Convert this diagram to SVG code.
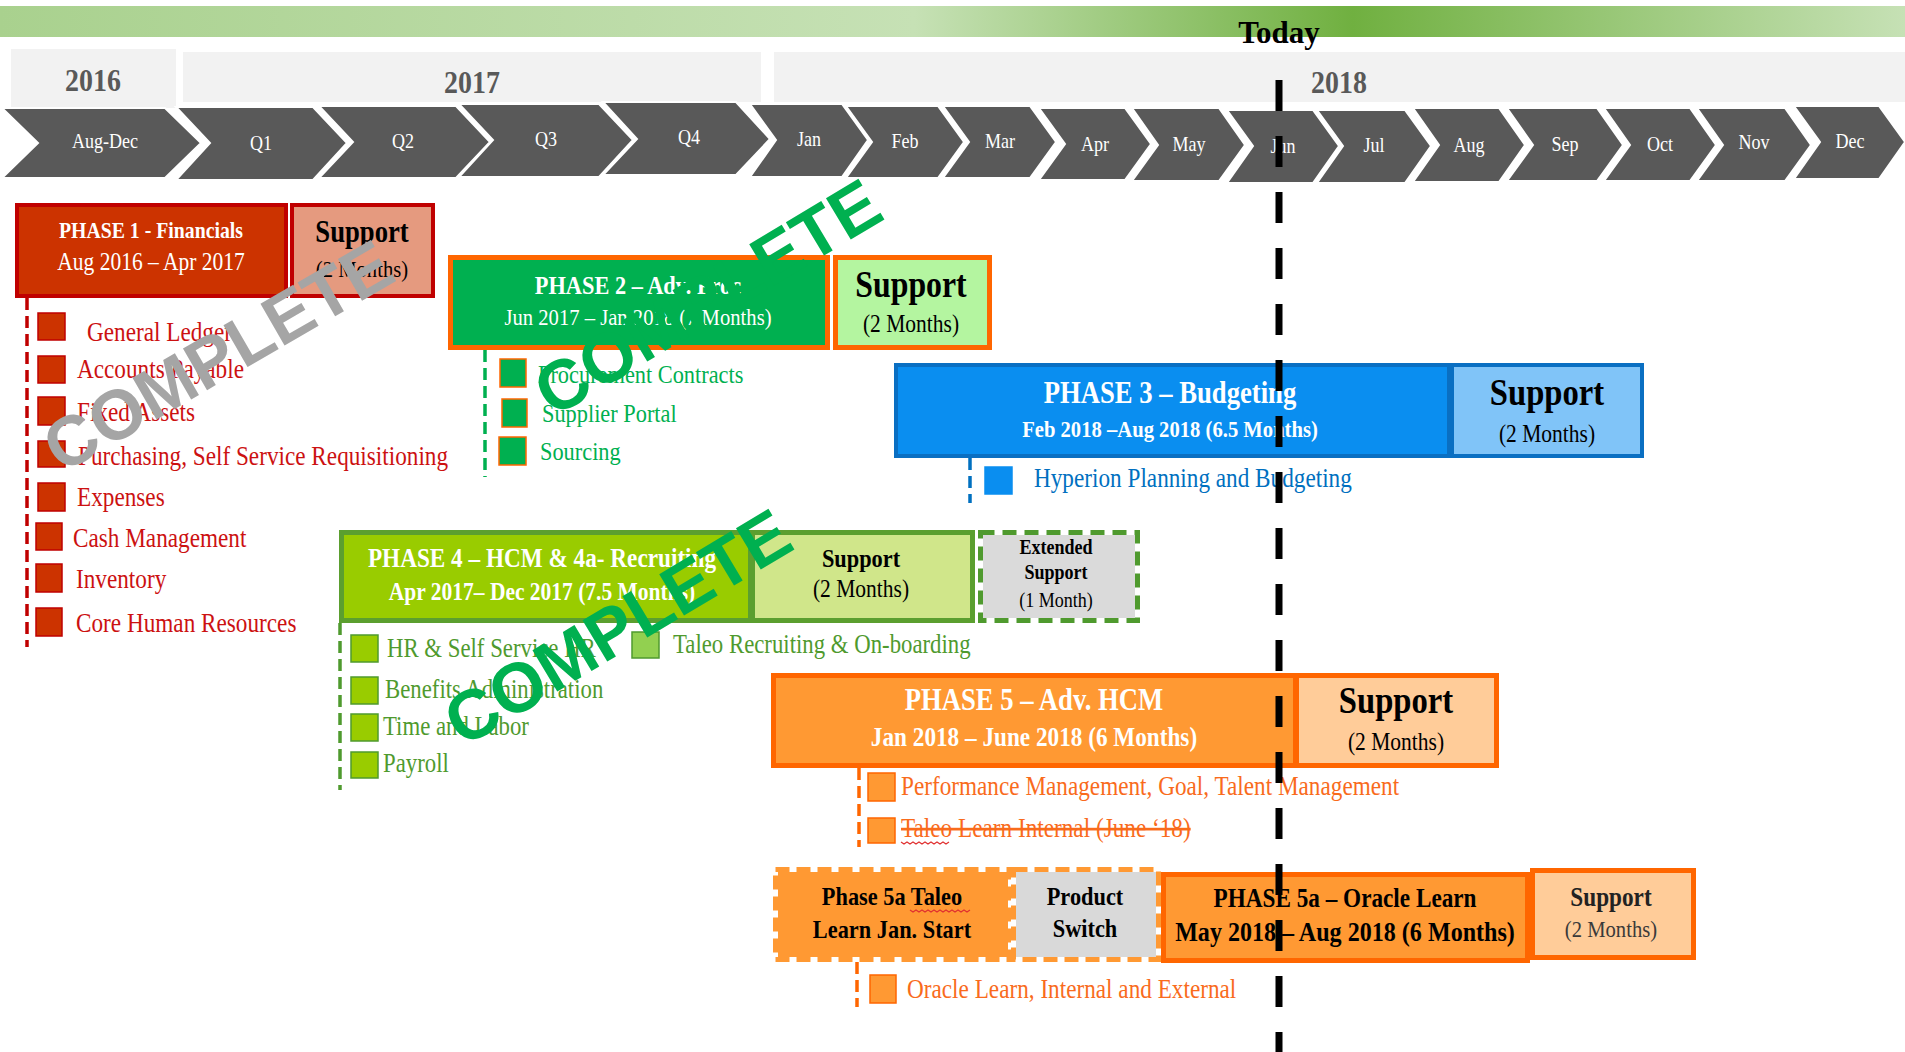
<svg xmlns="http://www.w3.org/2000/svg" width="1905" height="1052" viewBox="0 0 1905 1052">
<defs>
<linearGradient id="band" x1="0" y1="0" x2="1" y2="0">
<stop offset="0" stop-color="#a9d18e"/>
<stop offset="0.48" stop-color="#c6e1b5"/>
<stop offset="0.71" stop-color="#70b040"/>
<stop offset="1" stop-color="#c6e1b5"/>
</linearGradient>
<style>
text{font-family:"Liberation Serif","Times New Roman",serif}
.m{text-anchor:middle}
.b{font-weight:bold}
.chev{fill:#595959;stroke:#ffffff;stroke-width:2}
.cl{fill:#ffffff;font-size:21px;text-anchor:middle}
.yr{fill:#f2f2f2}
.yt{fill:#595959;font-size:31px;font-weight:bold;text-anchor:middle}
.w{fill:#ffffff}
.k{fill:#000000}
.conn{fill:none;stroke-width:3.5;stroke-dasharray:12 6}
.stamp{font-family:"Liberation Sans",Arial,sans-serif;font-weight:bold;font-size:70px;text-anchor:middle}
.sq1{fill:#cc3300;stroke:#c00000;stroke-width:1.5}
.sq2{fill:#00b050;stroke:#ff6600;stroke-width:1.5}
.sq3{fill:#0a8ef0;stroke:#0a8ef0;stroke-width:1.5}
.sq4{fill:#99cc00;stroke:#4f9a2e;stroke-width:1.5}
.sq4b{fill:#92d050;stroke:#4f9a2e;stroke-width:1.5}
.sq5{fill:#ff9933;stroke:#ff6600;stroke-width:1.5}
.t1{fill:#cc1111;font-size:27px}
.t2{fill:#00b050;font-size:26px}
.t3{fill:#0070c0;font-size:27px}
.t4{fill:#4f9a2e;font-size:26.5px}
.t5{fill:#f96b1c;font-size:27px}
.wave{fill:none;stroke:#e03030;stroke-width:1.2}
</style>
</defs>
<rect width="1905" height="1052" fill="#ffffff"/>

<g id="timeline">
<rect x="0" y="6" width="1905" height="31" fill="url(#band)"/>
<rect class="yr" x="11" y="49" width="165" height="59"/>
<rect class="yr" x="183" y="52" width="578" height="50"/>
<rect class="yr" x="774" y="52" width="1131" height="50"/>
<text class="yt" transform="translate(93 91) scale(.9 1)">2016</text>
<text class="yt" transform="translate(472 93) scale(.9 1)">2017</text>
<text class="yt" transform="translate(1339 93) scale(.9 1)">2018</text>
<polygon class="chev" points="2,108 165,108 201,143 165,178 2,178 38,143"/>
<polygon class="chev" points="176,107 313,107 347,143 313,180 176,180 210,143"/>
<polygon class="chev" points="319,106 456,106 490,142 456,178 319,178 353,142"/>
<polygon class="chev" points="459,104 599,104 633,140 599,177 459,177 493,140"/>
<polygon class="chev" points="603,102 736,102 770,139 736,175 603,175 637,139"/>
<polygon class="chev" points="750,104 842,104 868,140 842,177 750,177 776,140"/>
<polygon class="chev" points="846,106 938,106 964,142 938,178 846,178 872,142"/>
<polygon class="chev" points="943,106 1030,106 1056,142 1030,178 943,178 969,142"/>
<polygon class="chev" points="1039,108 1125,108 1151,144 1125,180 1039,180 1065,144"/>
<polygon class="chev" points="1132,108 1219,108 1245,145 1219,181 1132,181 1158,145"/>
<polygon class="chev" points="1227,110 1313,110 1339,146 1313,183 1227,183 1253,146"/>
<polygon class="chev" points="1317,110 1405,110 1431,146 1405,183 1317,183 1343,146"/>
<polygon class="chev" points="1413,108 1499,108 1525,145 1499,182 1413,182 1439,145"/>
<polygon class="chev" points="1507,108 1597,108 1623,145 1597,181 1507,181 1533,145"/>
<polygon class="chev" points="1604,108 1690,108 1716,145 1690,181 1604,181 1630,145"/>
<polygon class="chev" points="1697,108 1785,108 1811,145 1785,181 1697,181 1723,145"/>
<polygon class="chev" points="1794,106 1879,106 1905,142 1879,179 1794,179 1820,142"/>
<text class="cl" transform="translate(105 148) scale(.86 1)">Aug-Dec</text>
<text class="cl" transform="translate(261 150) scale(.86 1)">Q1</text>
<text class="cl" transform="translate(403 148) scale(.86 1)">Q2</text>
<text class="cl" transform="translate(546 146) scale(.86 1)">Q3</text>
<text class="cl" transform="translate(689 144) scale(.86 1)">Q4</text>
<text class="cl" transform="translate(809 146) scale(.86 1)">Jan</text>
<text class="cl" transform="translate(905 148) scale(.86 1)">Feb</text>
<text class="cl" transform="translate(1000 148) scale(.86 1)">Mar</text>
<text class="cl" transform="translate(1095 151) scale(.86 1)">Apr</text>
<text class="cl" transform="translate(1189 151) scale(.86 1)">May</text>
<text class="cl" transform="translate(1283 153) scale(.86 1)">Jun</text>
<text class="cl" transform="translate(1374 152) scale(.86 1)">Jul</text>
<text class="cl" transform="translate(1469 152) scale(.86 1)">Aug</text>
<text class="cl" transform="translate(1565 151) scale(.86 1)">Sep</text>
<text class="cl" transform="translate(1660 151) scale(.86 1)">Oct</text>
<text class="cl" transform="translate(1754 149) scale(.86 1)">Nov</text>
<text class="cl" transform="translate(1850 148) scale(.86 1)">Dec</text>
</g>

<g id="connectors">
<line class="conn" x1="27" y1="298" x2="27" y2="647" stroke="#c00000"/>
<line class="conn" x1="485" y1="350" x2="485" y2="477" stroke="#00b050"/>
<line class="conn" x1="970" y1="458" x2="970" y2="503" stroke="#0070c0"/>
<line class="conn" x1="340" y1="623" x2="340" y2="790" stroke="#4f9a2e"/>
<line class="conn" x1="859" y1="768" x2="859" y2="847" stroke="#ff6600"/>
<line class="conn" x1="857" y1="962" x2="857" y2="1007" stroke="#ff6600"/>
</g>

<g id="phase1">
<rect x="17" y="205" width="269" height="91" fill="#cc3300" stroke="#c00000" stroke-width="4"/>
<text class="w b m" font-size="23" transform="translate(151 238) scale(.86 1)">PHASE 1 - Financials</text>
<text class="w m" font-size="25" transform="translate(151 270) scale(.86 1)">Aug 2016 –  Apr 2017</text>
</g>
<g id="phase1-support">
<rect x="292" y="205" width="141" height="91" fill="#e59a7f" stroke="#c00000" stroke-width="4"/>
<text class="k b m" font-size="31" transform="translate(362 242) scale(.86 1)">Support</text>
<text class="k m" font-size="24" transform="translate(362 277) scale(.86 1)">(2 Months)</text>
</g>
<g id="phase1-items">
<rect class="sq1" x="38" y="313" width="27" height="27"/>
<text class="t1" transform="translate(87 341) scale(.86 1)">General Ledger</text>
<rect class="sq1" x="38" y="356" width="27" height="27"/>
<text class="t1" transform="translate(77 378) scale(.86 1)">Accounts Payable</text>
<rect class="sq1" x="38" y="397" width="27" height="28"/>
<text class="t1" transform="translate(77 421) scale(.86 1)">Fixed Assets</text>
<rect class="sq1" x="38" y="441" width="27" height="26"/>
<text class="t1" transform="translate(78 465) scale(.86 1)">Purchasing, Self Service Requisitioning</text>
<rect class="sq1" x="38" y="483" width="27" height="28"/>
<text class="t1" transform="translate(77 506) scale(.86 1)">Expenses</text>
<rect class="sq1" x="36" y="523" width="26" height="27"/>
<text class="t1" transform="translate(73 547) scale(.86 1)">Cash Management</text>
<rect class="sq1" x="36" y="564" width="26" height="28"/>
<text class="t1" transform="translate(76 588) scale(.86 1)">Inventory</text>
<rect class="sq1" x="36" y="608" width="26" height="28"/>
<text class="t1" transform="translate(76 632) scale(.86 1)">Core Human Resources</text>
</g>

<g id="phase2">
<rect x="450.5" y="257.5" width="377" height="90" fill="#00b050" stroke="#ff6600" stroke-width="5"/>
<text class="w b m" font-size="26" transform="translate(638 294) scale(.86 1)">PHASE 2 – Adv. Proc</text>
<text class="w m" font-size="24" transform="translate(638 325) scale(.86 1)">Jun 2017 – Jan 2018 (7 Months)</text>
</g>
<g id="phase2-support">
<rect x="835.5" y="257.5" width="154" height="90" fill="#b4f5a0" stroke="#ff6600" stroke-width="5"/>
<text class="k b m" font-size="37" transform="translate(911 297) scale(.86 1)">Support</text>
<text class="k m" font-size="25" transform="translate(911 332) scale(.86 1)">(2 Months)</text>
</g>
<g id="phase2-items">
<rect class="sq2" x="500" y="359" width="26" height="28"/>
<text class="t2" transform="translate(538 383) scale(.86 1)">Procurement Contracts</text>
<rect class="sq2" x="502" y="399" width="25" height="28"/>
<text class="t2" transform="translate(542 422) scale(.86 1)">Supplier Portal</text>
<rect class="sq2" x="499" y="437" width="27" height="28"/>
<text class="t2" transform="translate(540 460) scale(.86 1)">Sourcing</text>
</g>

<g id="phase3">
<rect x="896" y="365" width="553" height="91" fill="#0a8ef0" stroke="#0a6fc2" stroke-width="4"/>
<text class="w b m" font-size="31" transform="translate(1170 403) scale(.86 1)">PHASE 3 – Budgeting</text>
<text class="w b m" font-size="24" transform="translate(1170 437) scale(.86 1)">Feb  2018 –Aug 2018 (6.5 Months)</text>
</g>
<g id="phase3-support">
<rect x="1452" y="365" width="190" height="91" fill="#80c4f8" stroke="#0a6fc2" stroke-width="4"/>
<text class="k b m" font-size="38" transform="translate(1547 405) scale(.86 1)">Support</text>
<text class="k m" font-size="25" transform="translate(1547 442) scale(.86 1)">(2 Months)</text>
</g>
<g id="phase3-items">
<rect class="sq3" x="985" y="467" width="27" height="27"/>
<text class="t3" transform="translate(1034 487) scale(.86 1)">Hyperion Planning and Budgeting</text>
</g>

<g id="phase4">
<rect x="341.5" y="532.5" width="409" height="88" fill="#99cc00" stroke="#5b9f2f" stroke-width="5"/>
<text class="w b m" font-size="27" transform="translate(542 567) scale(.86 1)">PHASE 4 – HCM &amp; 4a- Recruiting</text>
<text class="w b m" font-size="25" transform="translate(542 600) scale(.86 1)">Apr 2017– Dec 2017 (7.5 Months)</text>
</g>
<g id="phase4-support">
<rect x="752.5" y="532.5" width="220" height="88" fill="#d0e68a" stroke="#5b9f2f" stroke-width="5"/>
<text class="k b m" font-size="26" transform="translate(861 567) scale(.86 1)">Support</text>
<text class="k m" font-size="25" transform="translate(861 597) scale(.86 1)">(2 Months)</text>
</g>
<g id="phase4-extended">
<rect x="980.5" y="532.5" width="157" height="88" fill="#dadada" stroke="#ffffff" stroke-width="5"/>
<rect x="980.5" y="532.5" width="157" height="88" fill="none" stroke="#4f9a2e" stroke-width="5" stroke-dasharray="14 8"/>
<text class="k b m" font-size="21" transform="translate(1056 554) scale(.86 1)">Extended</text>
<text class="k b m" font-size="21" transform="translate(1056 579) scale(.86 1)">Support</text>
<text class="k m" font-size="21" transform="translate(1056 607) scale(.86 1)">(1 Month)</text>
</g>
<g id="phase4-items">
<rect class="sq4" x="351" y="635" width="27" height="27"/>
<text class="t4" transform="translate(387 657) scale(.86 1)">HR &amp; Self Service HR</text>
<rect class="sq4b" x="632" y="632" width="27" height="26"/>
<text class="t4" transform="translate(673 653) scale(.86 1)">Taleo Recruiting &amp; On-boarding</text>
<rect class="sq4" x="351" y="677" width="27" height="27"/>
<text class="t4" transform="translate(385 698) scale(.86 1)">Benefits Administration</text>
<rect class="sq4" x="351" y="714" width="27" height="27"/>
<text class="t4" transform="translate(383 735) scale(.86 1)">Time and Labor</text>
<rect class="sq4" x="351" y="752" width="27" height="26"/>
<text class="t4" transform="translate(383 772) scale(.86 1)">Payroll</text>
</g>

<g id="phase5">
<rect x="773.5" y="675.5" width="522" height="90" fill="#ff9933" stroke="#ff6600" stroke-width="5"/>
<text class="w b m" font-size="31" transform="translate(1034 710) scale(.86 1)">PHASE 5 – Adv. HCM</text>
<text class="w b m" font-size="27" transform="translate(1034 746) scale(.86 1)">Jan 2018 – June 2018 (6 Months)</text>
</g>
<g id="phase5-support">
<rect x="1296.5" y="675.5" width="200" height="90" fill="#ffcc99" stroke="#ff6600" stroke-width="5"/>
<text class="k b m" font-size="38" transform="translate(1396 713) scale(.86 1)">Support</text>
<text class="k m" font-size="25" transform="translate(1396 750) scale(.86 1)">(2 Months)</text>
</g>
<g id="phase5-items">
<rect class="sq5" x="868" y="773" width="27" height="28"/>
<text class="t5" transform="translate(901 795) scale(.86 1)">Performance Management, Goal, Talent Management</text>
<rect class="sq5" x="868" y="818" width="27" height="25"/>
<text class="t5" text-decoration="line-through" transform="translate(901 837) scale(.86 1)">Taleo Learn Internal (June ‘18)</text>
<path class="wave" d="M901 842 l3 2 l3 -2 l3 2 l3 -2 l3 2 l3 -2 l3 2 l3 -2 l3 2 l3 -2 l3 2 l3 -2 l3 2 l3 -2 l3 2 l3 -2"/>
</g>

<g id="phase5a-taleo">
<rect x="775.5" y="869.5" width="235" height="90" fill="#ff9933" stroke="#ffffff" stroke-width="5"/>
<rect x="775.5" y="869.5" width="235" height="90" fill="none" stroke="#ff9933" stroke-width="5" stroke-dasharray="14 7"/>
<text class="k b m" font-size="26" transform="translate(892 905) scale(.86 1)">Phase 5a Taleo</text>
<text class="k b m" font-size="26" transform="translate(892 938) scale(.86 1)">Learn Jan. Start</text>
<path class="wave" d="M910 910 l3 2 l3 -2 l3 2 l3 -2 l3 2 l3 -2 l3 2 l3 -2 l3 2 l3 -2 l3 2 l3 -2 l3 2 l3 -2 l3 2 l3 -2 l3 2 l3 -2 l3 2 l3 -2"/>
</g>
<g id="phase5a-switch">
<rect x="1013.5" y="869.5" width="145" height="90" fill="#d9d9d9" stroke="#ffffff" stroke-width="5"/>
<rect x="1013.5" y="869.5" width="145" height="90" fill="none" stroke="#ff9933" stroke-width="5" stroke-dasharray="14 7"/>
<text class="k b m" font-size="26" transform="translate(1085 905) scale(.86 1)">Product</text>
<text class="k b m" font-size="26" transform="translate(1085 937) scale(.86 1)">Switch</text>
</g>
<g id="phase5a">
<rect x="1163.5" y="874.5" width="364" height="86" fill="#ff9933" stroke="#ff6600" stroke-width="5"/>
<text class="k b m" font-size="27" transform="translate(1345 907) scale(.86 1)">PHASE 5a – Oracle Learn</text>
<text class="k b m" font-size="28" transform="translate(1345 941) scale(.86 1)">May 2018 – Aug 2018 (6 Months)</text>
</g>
<g id="phase5a-support">
<rect x="1532.5" y="870.5" width="161" height="87" fill="#ffcc99" stroke="#ff6600" stroke-width="5"/>
<text class="b m" fill="#222222" font-size="27" transform="translate(1611 906) scale(.86 1)">Support</text>
<text class="m" fill="#3a3a3a" font-size="24" transform="translate(1611 937) scale(.86 1)">(2 Months)</text>
</g>
<g id="phase5a-items">
<rect class="sq5" x="870" y="975" width="26" height="28"/>
<text class="t5" transform="translate(907 998) scale(.86 1)">Oracle Learn, Internal and External</text>
</g>

<g id="today">
<line x1="1279" y1="80" x2="1279" y2="1052" stroke="#000000" stroke-width="7" stroke-dasharray="31 25"/>
<text x="1279" y="43" text-anchor="middle" font-family="'Liberation Sans',Arial,sans-serif" font-weight="bold" font-size="31" fill="#000000">Today</text>
</g>

<g id="stamps">
<text class="stamp" fill="#a5a5a5" transform="translate(230 377) rotate(-30)">COMPLETE</text>
<text class="stamp" fill="#00b050" transform="translate(720 318) rotate(-31)">COMPLETE</text>
<text class="stamp" fill="#00b050" transform="translate(630 648) rotate(-31)">COMPLETE</text>
</g>
</svg>
